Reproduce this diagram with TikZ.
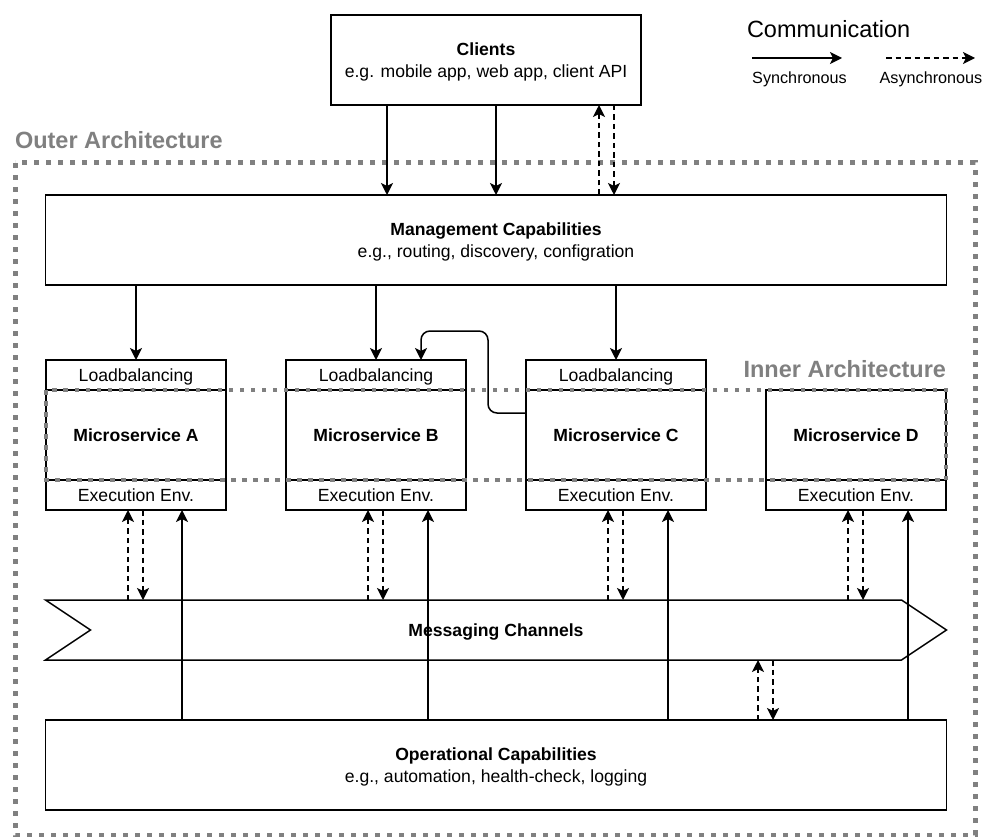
\documentclass[tikz,border=0pt]{standalone}
\usepackage{fontspec}
\setmainfont{Liberation Sans}
\usetikzlibrary{arrows.meta}
\definecolor{archgray}{HTML}{808080}
% strut that gives every text line the same height and depth
\newcommand\lstrut{\rule[-4pt]{0pt}{21pt}}
\begin{document}
\begin{tikzpicture}[x=1pt,y=-1pt,
  every node/.style={inner sep=0pt, outer sep=0pt},
  txt/.style={font=\fontsize{17.6}{21.6}\selectfont},
  box/.style={draw, line width=1.5pt, fill=white, txt, align=center},
  boldtxt/.style={font=\fontsize{17.6}{21.6}\selectfont\bfseries},
  tip/.style={-{Stealth[length=12pt,width=12pt,inset=3pt]}},
  sync/.style={draw, line width=1.5pt, tip},
  async/.style={sync, dash pattern=on 5.5pt off 4pt},
  outerline/.style={draw=archgray, line width=5pt, dash pattern=on 5pt off 7pt},
  innerline/.style={draw=archgray, line width=4.5pt, dash pattern=on 4.5pt off 6.5pt},
  heading/.style={text=archgray, font=\fontsize{23.5}{28}\selectfont\bfseries},
]
\useasboundingbox (0,0) rectangle (985,837);

% outer architecture frame
\draw[outerline] (15,163) rectangle (975,835);
\node[heading, anchor=base west] (outerlbl) at (15,149) {Outer Architecture};

% legend
\node[font=\fontsize{23.5}{28}\selectfont, anchor=base west] (comm) at (747,38) {Communication};
\node[font=\fontsize{16.2}{20}\selectfont, anchor=base] (synlbl) at (799.5,84) {Synchronous};
\node[font=\fontsize{16.2}{20}\selectfont, anchor=base] (asynlbl) at (931,84) {Asynchronous};
\coordinate (s1) at (752,58);
\coordinate (s2) at (842,58);
\coordinate (a1) at (886,58);
\coordinate (a2) at (975,58);
\draw[sync] (s1) -- (s2);
\draw[async] (a1) -- (a2);

% main boxes
\node[box, minimum width=310pt, minimum height=90pt] (cl) at (486,60)
  {\lstrut\textbf{Clients}\\\lstrut e.g. mobile app, web app, client API};
\node[box, minimum width=901pt, minimum height=90pt] (mgmt) at (496,240)
  {\lstrut\textbf{Management Capabilities}\\\lstrut e.g., routing, discovery, configration};
\node[box, minimum width=901pt, minimum height=90pt] (ops) at (496,765)
  {\lstrut\textbf{Operational Capabilities}\\\lstrut e.g., automation, health-check, logging};

% microservices
\foreach \n/\x/\o in {A/136/46,B/376/52,C/616/52,D/856/52}{
  \node[box, boldtxt, minimum width=180pt, minimum height=90pt] (ms\n) at (\x,435) {\lstrut Microservice \n};
  \node[box, minimum width=180pt, minimum height=30pt] (ex\n) at (\x,495) {\lstrut Execution Env.};
  \coordinate (up\n) at ([xshift=-8pt]ex\n.south);
  \coordinate (dn\n) at ([xshift=7pt]ex\n.south);
  \coordinate (so\n) at ([xshift=\o pt]ex\n.south);
}
\foreach \n/\x in {A/136,B/376,C/616}{
  \node[box, minimum width=180pt, minimum height=30pt] (lb\n) at (\x,375) {\lstrut Loadbalancing};
}

% messaging channels
\node[txt, font=\fontsize{17.6}{21.6}\selectfont\bfseries, minimum width=901pt, minimum height=60pt] (msg) at (496,630) {\lstrut Messaging Channels};
\draw[line width=1.5pt] (msg.north west) -- ([xshift=-45pt]msg.north east) -- (msg.east)
  -- ([xshift=-45pt]msg.south east) -- (msg.south west) -- ([xshift=45pt]msg.west) -- cycle;

% clients <-> management
\coordinate (c1) at ([xshift=-99pt]cl.south);
\coordinate (cu) at ([xshift=113pt]cl.south);
\coordinate (cd) at ([xshift=128pt]cl.south);
\draw[sync] (c1) -- (mgmt.north -| c1);
\draw[sync] (cl.south -| mgmt.north) -- (mgmt.north);
\draw[async] (mgmt.north -| cu) -- (cu);
\draw[async] (cd) -- (mgmt.north -| cd);

% management -> loadbalancing
\foreach \n in {A,B,C}{
  \draw[sync] (mgmt.south -| lb\n.north) -- (lb\n.north);
}

% microservice C calls microservice B
\coordinate (bend) at (488,331);
\coordinate (bin) at ([xshift=45pt]lbB.north);
\draw[sync, rounded corners=9pt] ([yshift=22pt]msC.west) -| (bend) -| (bin);

% execution environments <-> messaging, operational -> execution environments
\foreach \n in {A,B,C,D}{
  \draw[async] (msg.north -| up\n) -- (up\n);
  \draw[async] (dn\n) -- (msg.north -| dn\n);
  \draw[sync] (ops.north -| so\n) -- (so\n);
}

% messaging <-> operational
\coordinate (ou) at ([xshift=262pt]ops.north);
\coordinate (od) at ([xshift=277pt]ops.north);
\draw[async] (ou) -- (msg.south -| ou);
\draw[async] (msg.south -| od) -- (od);

% inner architecture frame
\draw[innerline] (msA.north west) rectangle (msD.south east);
\node[heading, anchor=base east] (innerlbl) at (946,377) {Inner Architecture};
\end{tikzpicture}
\end{document}
